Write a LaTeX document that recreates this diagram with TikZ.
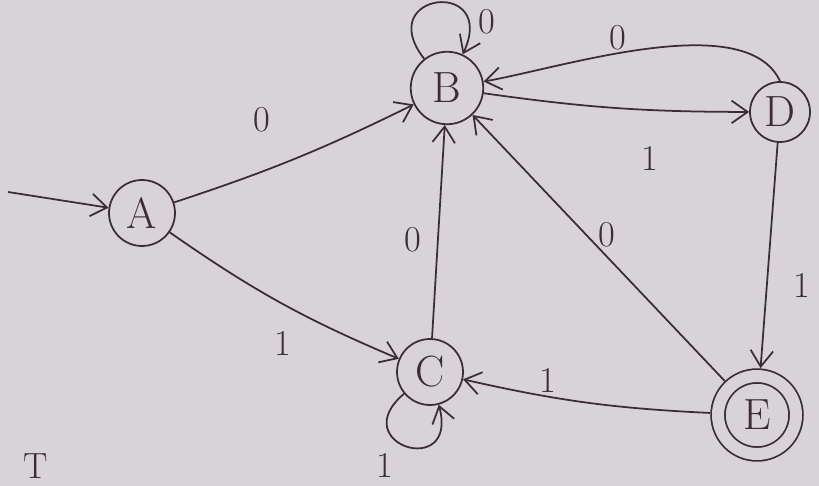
\documentclass[tikz,border=0pt]{standalone}
\usepackage{tikz}
\usetikzlibrary{arrows.meta,positioning}
\definecolor{paper}{HTML}{D8D2D9}
\definecolor{pen}{HTML}{3B2C37}

\tikzset{
    state/.style={circle, draw=pen, line width=1pt, minimum size=1.32cm, inner sep=0pt, font=\Huge, text=pen},
    accept/.style={state, double=paper, double distance=0.24cm, minimum size=1.56cm, outer sep=0.16cm},
    trans/.style={draw=pen, line width=1pt, -{Straight Barb[length=3.2mm, width=4.5mm]}},
    lbl/.style={font=\huge, text=pen}
}

\begin{document}
\begin{tikzpicture}[x=0.02cm, y=-0.02cm]

% ---- Paper ----
\fill[paper] (0,0) rectangle (819,486);
\useasboundingbox (0,0) rectangle (819,486);

% ---- States ----
\node[state] (A) at (142,213) {A};
\node[state, minimum size=1.45cm] (B) at (447,88) {B};
\node[state] (C) at (430,372) {C};
\node[state, minimum size=1.2cm] (D) at (780,112) {D};
\node[accept] (E) at (757,415) {E};

% ---- Start arrow ----
\coordinate (start) at (8,192);
\draw[trans] (start) -- (A);

% ---- Transitions ----
\draw[trans] (A) to[bend right=4] (B);
\draw[trans] (A) to[bend right=6] (C);
\draw[trans] (B) to[out=128, in=65, looseness=5.6] (B);
\draw[trans] (C) to[out=220, in=285, looseness=5.5] (C);
\draw[trans] (B) to[bend right=4] (D);
\draw[trans] (D.north) to[out=115, in=10, looseness=0.7] (B);
\draw[trans] (C) -- (B);
\draw[trans] (E) -- (B);
\draw[trans] (D) -- (E);
\draw[trans] (E) to[bend left=5] (C);

% ---- Labels ----
\node[lbl] (lAB) at (262,120) {0};
\node[lbl] (lAC) at (283,343) {1};
\node[lbl] (lBB) at (487,22) {0};
\node[lbl] (lCC) at (385,465) {1};
\node[lbl] (lBD) at (650,158) {1};
\node[lbl] (lDB) at (618,38) {0};
\node[lbl] (lCB) at (413,240) {0};
\node[lbl] (lEB) at (607,235) {0};
\node[lbl] (lDE) at (802,285) {1};
\node[lbl] (lEC) at (548,380) {1};
\node[lbl] (mark) at (36,466) {T};

\end{tikzpicture}
\end{document}
